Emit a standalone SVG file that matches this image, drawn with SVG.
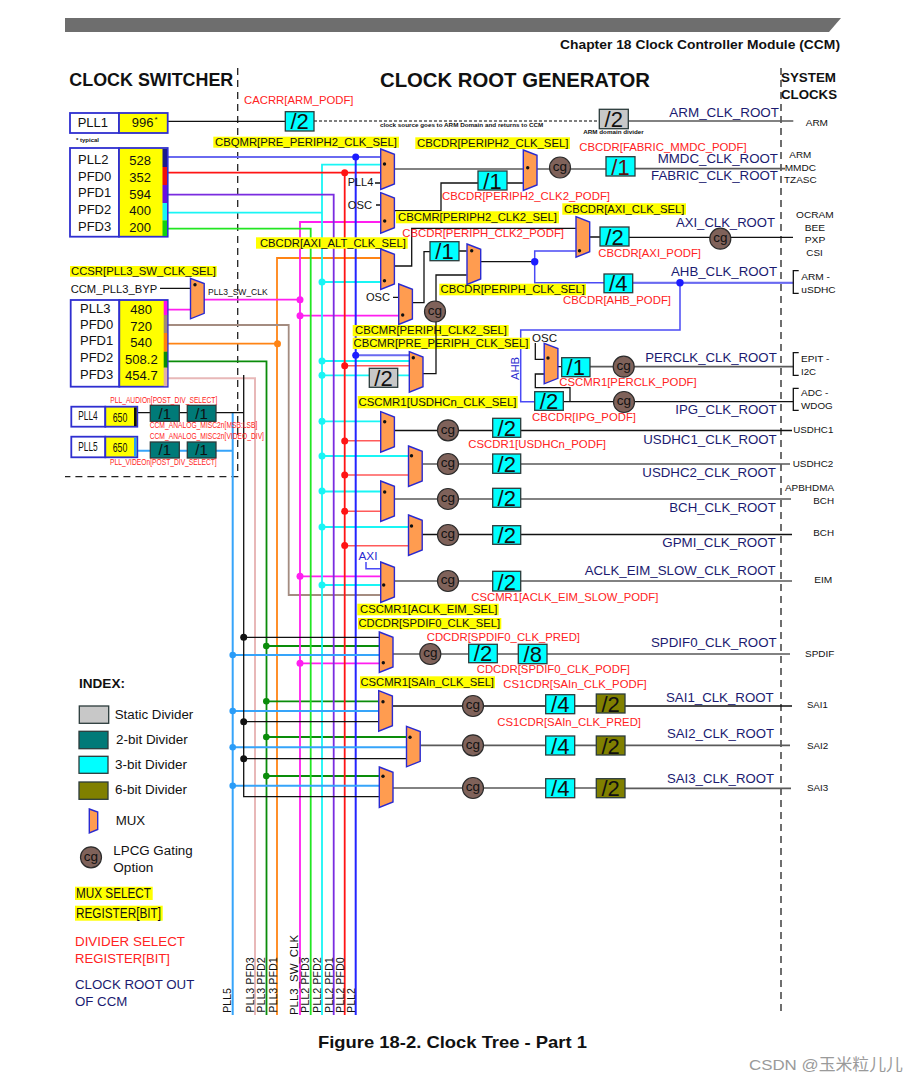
<svg xmlns="http://www.w3.org/2000/svg" xmlns:xlink="http://www.w3.org/1999/xlink" width="907" height="1081" viewBox="0 0 907 1081">
<style>
text{font-family:"Liberation Sans",Arial,sans-serif;fill:#111}
.l{fill:none;stroke-width:1.6;stroke-linejoin:miter}
.k{stroke:#111;stroke-width:1.3}.g{stroke:#5a5a5a;stroke-width:1.7}
.b{stroke:#2424ff;stroke-width:2}.bl{stroke:#6a6af0;stroke-width:2}.bt{stroke:#4a4af5;stroke-width:1.5}
.r{stroke:#ff1414;stroke-width:1.8}.rl{stroke:#ff5a5a;stroke-width:1.6}
.p{stroke:#7a2ce0;stroke-width:1.8}.c{stroke:#19f5f5;stroke-width:1.8}.gr{stroke:#22e622;stroke-width:1.8}
.m{stroke:#ff1ef0;stroke-width:1.8}.o{stroke:#ff8414;stroke-width:1.8}.br{stroke:#a48c80;stroke-width:1.8}
.dg{stroke:#0a8c0a;stroke-width:1.8}.pk{stroke:#e8b8b8;stroke-width:2}.sb{stroke:#36a4fa;stroke-width:2}
.dk{fill:#111}.db{fill:#1c1cff}.dr{fill:#ff1414}.dc{fill:#19f5f5}.dm{fill:#ff1ef0}.dgr{fill:#0a8c0a}.ds{fill:#2a9cf8}.do{fill:#ff8414}
.mux{fill:#ff9c50;stroke:#2a2ad0;stroke-width:1.4}
.pin{fill:#111}
.d3,.d2,.d6,.ds0{stroke:#2b3b3b;stroke-width:1.3}
.d3{fill:#00ffff}.d2{fill:#007a78}.d6{fill:#808000}.ds0{fill:#c8c8c8}
.dt{font-size:22px;text-anchor:middle}.dts{font-size:15px;text-anchor:middle}
.cgc{fill:#7f625a;stroke:#2b2b2b;stroke-width:1.2}.cgt{font-size:13.5px;text-anchor:middle;fill:#111}
.yb{fill:#ffff00}
.y{font-size:11.2px}.red{font-size:11px;fill:#ff2222}.rs{font-size:8.2px;fill:#ff2222}
.root{font-size:13.5px;fill:#1a1a70}.sys{font-size:9.5px}.pb{fill:none;stroke:#2f2fd0;stroke-width:1.8}
.nm{font-size:13px}.vt{font-size:10.7px}.leg{font-size:12.5px}.box{fill:#fff;stroke:#2f2fd0;stroke-width:1.8}
.ybx{fill:#ffff00;stroke:#2f2fd0;stroke-width:1.8}
.dash{fill:none;stroke:#222;stroke-width:1.3;stroke-dasharray:7 5}
</style>
<defs>
<polygon id="muxs" class="mux" points="0,0 13.7,5.3 13.7,35 0,40.5"/>
</defs>
<polygon points="65,18 841,18 829,32 65,32" fill="#6e6e6e"/>
<text x="840" y="49" text-anchor="end" font-size="12" font-weight="bold" textLength="280" lengthAdjust="spacingAndGlyphs">Chapter 18 Clock Controller Module (CCM)</text>
<text x="69.3" y="85.7" font-size="17.5" font-weight="bold" textLength="164" lengthAdjust="spacingAndGlyphs">CLOCK SWITCHER</text>
<text x="380" y="87" font-size="20" font-weight="bold" textLength="270" lengthAdjust="spacingAndGlyphs">CLOCK ROOT GENERATOR</text>
<text x="781" y="82" font-size="13.5" font-weight="bold" textLength="55" lengthAdjust="spacingAndGlyphs">SYSTEM</text>
<text x="781" y="99.3" font-size="13.5" font-weight="bold" textLength="56" lengthAdjust="spacingAndGlyphs">CLOCKS</text>
<path class="dash" d="M237.7 68V476.7H65"/>
<path class="dash" d="M781 68V1015"/>

<g id="connectors">
<path class="l pk" d="M167 378.3H255V1015"/>
<path class="l o" d="M380.7 258H277V1015M167 343.7H277"/>
<path class="l dg" d="M167 361.3H266.5V1015M266.5 646H379.3M266.5 701.3H378.7M266.5 737H406.3M266.5 776H379.3"/>
<path class="l br" d="M167 325H288.7V595H380.7"/>
<path class="l m" d="M167 309.7H190.3M204 299.7H300M380.7 222H300V1015M300 315.7H398.7M300 576.3H380.7M300 663.3H379.3"/>
<path class="l gr" d="M168 228.7H310.7V1015"/>
<path class="l c" d="M168 212.7H322M380.7 164.7H322V1015M380.7 282H322M409.3 361H322M409.3 375.3H322M380.7 421.3H322M408.3 456H322M380.7 491.5H322M408.3 527H322M380.7 585H322"/>
<path class="l p" d="M168 194.7H333.7V1015"/>
<path class="l r" d="M168 172.7H380.7M344.7 172.7V1015"/>
<path class="l rl" d="M344.7 365.7H409.3M344.7 440.7H380.7M344.7 475H408.3M344.7 511.3H380.7M344.7 545.7H408.3"/>
<path class="l bl" d="M168 157H380.7M355.7 355.3H409.3"/>
<path class="l b" d="M355.7 157V1015"/>
<path class="l sb" d="M137 450.7H150.3M179.3 450.7H187.3M216 450.7H232.7M232.7 412.7V1015M232.7 655H379.3M232.7 711H378.7M232.7 747.3H406.3M232.7 785.7H379.3"/>
<path class="l k" d="M137 412.7H150.3M179.3 412.7H187.3M216 412.7H244M243.7 375V796.7H379.3M243.7 637.3H379.3M243.7 721.7H378.7M243.7 758.7H406.3"/>
<path class="l k" d="M168 121.3H285.3M160 288.3H190.3M375 183H380.7M376 205H380.7M393 297.3H398.7"/>
<path class="l" stroke="#555" stroke-width="1.4" stroke-dasharray="3 2" d="M314 121H600"/>
<path class="l g" d="M628 121H793.3M394 169H523M537 169H606M635 168.7H785"/>
<path class="l k" d="M394 210.7H441V183H478M507 183H523M590 237H600M629 237.3H793M412 302.7H424V251.7H430M459 251H466.7M480.7 261.7H534.7"/>
<path class="l k" d="M394 266H411.7V228.3H576"/>
<path class="l bt" d="M576 251H534.7V282.7H604M632.7 282.7H793.3M680 282.7V330H520.7V401.7H534.7M366 562V568.7H380.7"/>
<path class="l bl" d="M632.7 282.7H793.3"/>
<path class="l k" d="M535.3 343V359.3H544M544 374H535.3V387.7H570V401.7M558 366.7H561.7M563.3 401.7H793.3"/>
<path class="l g" d="M590 366.7H793.3"/>
<path class="l k" d="M798.7 270.7H793.3V293.3H798.7M798.7 352.7H793.3V375.3H798.7M798.7 388.3H793.3V410.3H798.7"/>
<path class="l k" d="M394.3 430.5H492.7M520.7 430.5H792"/>
<path class="l g" d="M422.3 464H492.7M520.7 464H790M394.3 499H492.7M520.7 499H791"/>
<path class="l k" d="M422 534.5H492.7M520.7 534.5H792"/>
<path class="l g" d="M394.3 581H492.7M520.7 581H792"/>
<path class="l g" d="M393 654H468.7M497.3 654H518.3M547 654H790"/>
<path class="l k" d="M392.3 706H545.7M574.7 706H596.3M625 706H792"/>
<path class="l g" d="M420.3 745.3H545.7M574.7 745.3H596.3M625 745.3H790"/>
<path class="l g" d="M393 788H545.7M574.7 788H596.3M625 788.3H791"/>
<g class="db"><circle cx="355.7" cy="157" r="3.5"/><circle cx="355.7" cy="355.3" r="3.5"/><circle cx="534.7" cy="261.7" r="3.7"/><circle cx="680" cy="282.7" r="3.7"/></g>
<g class="dr"><circle cx="344.7" cy="172.7" r="3.5"/><circle cx="344.7" cy="365.7" r="3.5"/><circle cx="344.7" cy="441" r="3.5"/><circle cx="344.7" cy="475" r="3.5"/><circle cx="344.7" cy="511.3" r="3.5"/><circle cx="344.7" cy="545.5" r="3.5"/></g>
<g class="dc"><circle cx="322" cy="282" r="3.5"/><circle cx="322" cy="361" r="3.5"/><circle cx="322" cy="375.3" r="3.5"/><circle cx="322" cy="421.3" r="3.5"/><circle cx="322" cy="456" r="3.5"/><circle cx="322" cy="491" r="3.5"/><circle cx="322" cy="527" r="3.5"/><circle cx="322" cy="585" r="3.5"/></g>
<g class="dm"><circle cx="300" cy="299.7" r="3.5"/><circle cx="300" cy="315.7" r="3.5"/><circle cx="300" cy="576.3" r="3.5"/><circle cx="300" cy="663.3" r="3.5"/></g>
<circle class="do" cx="277.5" cy="343.7" r="3.5"/>
<g class="dk"><circle cx="243.7" cy="637.3" r="3.5"/><circle cx="243.7" cy="721.7" r="3.5"/><circle cx="243.7" cy="758.7" r="3.5"/></g>
<g class="dgr"><circle cx="266.3" cy="646" r="3.3"/><circle cx="266.3" cy="701.3" r="3.3"/><circle cx="266.3" cy="737" r="3.3"/><circle cx="266.3" cy="776" r="3.3"/></g>
<g class="ds"><circle cx="232.7" cy="655" r="3.3"/><circle cx="232.7" cy="711" r="3.3"/><circle cx="232.7" cy="747.3" r="3.3"/><circle cx="232.7" cy="785.7" r="3.3"/></g>
</g>

<g id="pll1"><rect class="box" x="70" y="113" width="49" height="20"/><rect class="ybx" x="119" y="113" width="48.7" height="20"/><text class="nm" x="77.7" y="126.7">PLL1</text><text class="nm" x="131.7" y="126.7">996</text><text x="154.5" y="122" font-size="8">*</text><text x="76" y="141.7" font-size="6" font-weight="bold">* typical</text></g>
<g id="pll2-bank"><rect class="box" x="70" y="148" width="49" height="88.7"/><rect class="ybx" x="119" y="148" width="48.7" height="88.7"/>
<rect x="162.5" y="149" width="4.5" height="18" fill="#1c1c8c"/><rect x="162.5" y="167" width="4.5" height="18" fill="#f01010"/><rect x="162.5" y="185" width="4.5" height="18" fill="#6a10e0"/><rect x="162.5" y="203" width="4.5" height="17.5" fill="#19f5f5"/><rect x="162.5" y="220.5" width="4.5" height="15.5" fill="#12d012"/>
<text class="nm" x="78" y="164">PLL2</text><text class="nm" x="78" y="180.7">PFD0</text><text class="nm" x="78" y="197.3">PFD1</text><text class="nm" x="78" y="214">PFD2</text><text class="nm" x="78" y="230.7">PFD3</text>
<text class="nm" x="129.3" y="165">528</text><text class="nm" x="129.3" y="181.5">352</text><text class="nm" x="129.3" y="198.5">594</text><text class="nm" x="129.3" y="215">400</text><text class="nm" x="129.3" y="232">200</text></g>
<g id="pll3-bank"><rect class="box" x="70.7" y="300" width="48.6" height="86.7"/><rect class="ybx" x="119.3" y="300" width="48.4" height="86.7"/>
<rect x="163.7" y="301" width="3.6" height="14" fill="#ff10e8"/><rect x="163.7" y="315" width="3.6" height="18" fill="#a08878"/><rect x="163.7" y="333" width="3.6" height="18.7" fill="#ff8010"/><rect x="163.7" y="351.7" width="3.6" height="16" fill="#0a8c0a"/><rect x="163.7" y="367.7" width="3.6" height="18.5" fill="#e0b0a8"/>
<text class="nm" x="80" y="312.7">PLL3</text><text class="nm" x="80" y="329.3">PFD0</text><text class="nm" x="80" y="345">PFD1</text><text class="nm" x="80" y="362">PFD2</text><text class="nm" x="80" y="379">PFD3</text>
<text class="nm" x="130.3" y="313.7">480</text><text class="nm" x="130.3" y="330.7">720</text><text class="nm" x="130.3" y="347">540</text><text class="nm" x="125" y="364" textLength="32.7" lengthAdjust="spacingAndGlyphs">508.2</text><text class="nm" x="125" y="380.3" textLength="32.7" lengthAdjust="spacingAndGlyphs">454.7</text></g>
<g id="pll4"><rect class="box" x="71.3" y="406.7" width="34" height="20"/><rect class="ybx" x="105.3" y="406.7" width="32" height="20"/><rect x="134" y="407.5" width="2.6" height="18.5" fill="#111"/><text class="nm" x="78.3" y="420" textLength="19.4" lengthAdjust="spacingAndGlyphs">PLL4</text><text class="nm" x="112.7" y="422" textLength="14.6" lengthAdjust="spacingAndGlyphs">650</text></g>
<g id="pll5"><rect class="box" x="71.3" y="436.7" width="34" height="20.6"/><rect class="ybx" x="105.3" y="436.7" width="32" height="20.6"/><rect x="134" y="437.5" width="2.6" height="19" fill="#2a9cf8"/><text class="nm" x="78.3" y="450.7" textLength="19.4" lengthAdjust="spacingAndGlyphs">PLL5</text><text class="nm" x="112.7" y="452" textLength="14.6" lengthAdjust="spacingAndGlyphs">650</text></g>
<g id="audio-div1"><rect class="d2" x="150.3" y="405.3" width="29" height="16"/><text class="dts" x="164.8" y="418.5">/1</text></g>
<g id="audio-div2"><rect class="d2" x="187.3" y="405.3" width="28.7" height="16"/><text class="dts" x="201.6" y="418.5">/1</text></g>
<g id="video-div1"><rect class="d2" x="150.3" y="442" width="29" height="16"/><text class="dts" x="164.8" y="455.2">/1</text></g>
<g id="video-div2"><rect class="d2" x="187.3" y="442" width="28.7" height="16"/><text class="dts" x="201.6" y="455.2">/1</text></g>
<text class="rs" x="110.3" y="402.7" textLength="107" lengthAdjust="spacingAndGlyphs">PLL_AUDIOn[POST_DIV_SELECT]</text>
<text class="rs" x="149.7" y="427.7" textLength="107.6" lengthAdjust="spacingAndGlyphs">CCM_ANALOG_MISC2n[MSB:LSB]</text>
<text class="rs" x="149.7" y="438.7" textLength="114.3" lengthAdjust="spacingAndGlyphs">CCM_ANALOG_MISC2n[VIDEO_DIV]</text>
<text class="rs" x="110" y="464.7" textLength="106.7" lengthAdjust="spacingAndGlyphs">PLL_VIDEOn[POST_DIV_SELECT]</text>
<text x="70.7" y="293" font-size="11" textLength="86.5" lengthAdjust="spacingAndGlyphs">CCM_PLL3_BYP</text>
<text x="208" y="295" font-size="8.2" textLength="59.7" lengthAdjust="spacingAndGlyphs">PLL3_SW_CLK</text>

<g id="mux-pll3"><use xlink:href="#muxs" href="#muxs" x="190.5" y="278.3"/><circle class="pin" cx="195" cy="284.7" r="1.7"/></g>
<g id="div-arm-podf"><rect class="d3" x="285.3" y="111.7" width="28.7" height="19.3"/><text class="dt" x="299.6" y="129">/2</text></g>
<g id="div-arm-domain"><rect class="ds0" x="599.3" y="109.3" width="29" height="19.4"/><text class="dt" x="613.8" y="127.3">/2</text></g>
<text x="380" y="127.3" font-size="6.2" font-weight="bold" textLength="163.3" lengthAdjust="spacingAndGlyphs">clock source goes to ARM Domain and returns to CCM</text>
<text x="583.3" y="134" font-size="6.2" font-weight="bold" textLength="60.4" lengthAdjust="spacingAndGlyphs">ARM domain divider</text>

<g id="yellow-labels">
<rect class="yb" x="213.3" y="136.7" width="185.7" height="11"/><text class="y" x="215" y="145.6" textLength="182" lengthAdjust="spacingAndGlyphs">CBQMR[PRE_PERIPH2_CLK_SEL]</text>
<rect class="yb" x="415.3" y="137.3" width="154.7" height="11.7"/><text class="y" x="417" y="146.7" textLength="151.5" lengthAdjust="spacingAndGlyphs">CBCDR[PERIPH2_CLK_SEL]</text>
<rect class="yb" x="256" y="237.3" width="151.7" height="11.4"/><text class="y" x="260" y="246.5" textLength="146" lengthAdjust="spacingAndGlyphs">CBCDR[AXI_ALT_CLK_SEL]</text>
<rect class="yb" x="396" y="211.3" width="163" height="12"/><text class="y" x="398" y="220.8" textLength="159" lengthAdjust="spacingAndGlyphs">CBCMR[PERIPH2_CLK2_SEL]</text>
<rect class="yb" x="562.3" y="203.3" width="123.7" height="11.4"/><text class="y" x="564" y="212.5" textLength="120.5" lengthAdjust="spacingAndGlyphs">CBCDR[AXI_CLK_SEL]</text>
<rect class="yb" x="439.3" y="283.7" width="146.7" height="11.6"/><text class="y" x="440.5" y="293" textLength="144.5" lengthAdjust="spacingAndGlyphs">CBCDR[PERIPH_CLK_SEL]</text>
<rect class="yb" x="352.7" y="325" width="156" height="11.3"/><text class="y" x="355" y="334" textLength="152" lengthAdjust="spacingAndGlyphs">CBCMR[PERIPH_CLK2_SEL]</text>
<rect class="yb" x="352.7" y="337.7" width="177.3" height="11.3"/><text class="y" x="353.5" y="346.7" textLength="175" lengthAdjust="spacingAndGlyphs">CBCMR[PRE_PERIPH_CLK_SEL]</text>
<rect class="yb" x="357.7" y="396" width="160" height="12.3"/><text class="y" x="358.5" y="405.8" textLength="158" lengthAdjust="spacingAndGlyphs">CSCMR1[USDHCn_CLK_SEL]</text>
<rect class="yb" x="357.3" y="603.7" width="141.4" height="11.6"/><text class="y" x="360" y="613" textLength="137.5" lengthAdjust="spacingAndGlyphs">CSCMR1[ACLK_EIM_SEL]</text>
<rect class="yb" x="358" y="618" width="143.3" height="11.3"/><text class="y" x="358.5" y="627" textLength="141.5" lengthAdjust="spacingAndGlyphs">CDCDR[SPDIF0_CLK_SEL]</text>
<rect class="yb" x="360" y="676.3" width="135" height="12"/><text class="y" x="360.5" y="685.8" textLength="133.5" lengthAdjust="spacingAndGlyphs">CSCMR1[SAIn_CLK_SEL]</text>
<rect class="yb" x="70" y="266" width="146.7" height="10.7"/><text class="y" x="71" y="274.8" textLength="145" lengthAdjust="spacingAndGlyphs">CCSR[PLL3_SW_CLK_SEL]</text>
</g>
<path id="periph-clk2-feed" class="l k" d="M466.7 275H436V373.7H423"/>

<g id="red-labels">
<text class="red" x="244" y="104" textLength="109.5" lengthAdjust="spacingAndGlyphs">CACRR[ARM_PODF]</text>
<text class="red" x="579.3" y="150.7" textLength="167.4" lengthAdjust="spacingAndGlyphs">CBCDR[FABRIC_MMDC_PODF]</text>
<text class="red" x="442" y="200" textLength="168" lengthAdjust="spacingAndGlyphs">CBCDR[PERIPH2_CLK2_PODF]</text>
<text class="red" x="402.3" y="237" textLength="161.7" lengthAdjust="spacingAndGlyphs">CBCDR[PERIPH_CLK2_PODF]</text>
<text class="red" x="598.3" y="257.3" textLength="102.7" lengthAdjust="spacingAndGlyphs">CBCDR[AXI_PODF]</text>
<text class="red" x="563" y="304.3" textLength="108" lengthAdjust="spacingAndGlyphs">CBCDR[AHB_PODF]</text>
<text class="red" x="559.3" y="386" textLength="137.4" lengthAdjust="spacingAndGlyphs">CSCMR1[PERCLK_PODF]</text>
<text class="red" x="532" y="420.7" textLength="104" lengthAdjust="spacingAndGlyphs">CBCDR[IPG_PODF]</text>
<text class="red" x="468.3" y="447.7" textLength="137.7" lengthAdjust="spacingAndGlyphs">CSCDR1[USDHCn_PODF]</text>
<text class="red" x="471.3" y="600.7" textLength="187" lengthAdjust="spacingAndGlyphs">CSCMR1[ACLK_EIM_SLOW_PODF]</text>
<text class="red" x="426.7" y="640.5" textLength="153.3" lengthAdjust="spacingAndGlyphs">CDCDR[SPDIF0_CLK_PRED]</text>
<text class="red" x="476.7" y="673.3" textLength="153.3" lengthAdjust="spacingAndGlyphs">CDCDR[SPDIF0_CLK_PODF]</text>
<text class="red" x="503.3" y="688" textLength="143.4" lengthAdjust="spacingAndGlyphs">CS1CDR[SAIn_CLK_PODF]</text>
<text class="red" x="497.3" y="725.7" textLength="143.7" lengthAdjust="spacingAndGlyphs">CS1CDR[SAIn_CLK_PRED]</text>
</g>

<text x="347.7" y="186.3" font-size="11" textLength="25.6" lengthAdjust="spacingAndGlyphs">PLL4</text>
<text x="347.7" y="209.3" font-size="11" textLength="24.3" lengthAdjust="spacingAndGlyphs">OSC</text>
<text x="366" y="301" font-size="11" textLength="24" lengthAdjust="spacingAndGlyphs">OSC</text>
<text x="532" y="342" font-size="11" textLength="25" lengthAdjust="spacingAndGlyphs">OSC</text>
<text x="358.5" y="560" font-size="10.5" style="fill:#2a2ad0" textLength="19" lengthAdjust="spacingAndGlyphs">AXI</text>
<text transform="translate(519,380) rotate(-90)" font-size="10.5" style="fill:#2a2ad0" textLength="23" lengthAdjust="spacingAndGlyphs">AHB</text>

<g id="mux-pre-periph2"><use xlink:href="#muxs" href="#muxs" x="380.7" y="149"/><circle class="pin" cx="384.5" cy="164" r="1.7"/></g>
<g id="mux-periph2-clk2"><use xlink:href="#muxs" href="#muxs" x="380.7" y="192.7"/><circle class="pin" cx="384.7" cy="221" r="1.7"/></g>
<g id="mux-periph2"><use xlink:href="#muxs" href="#muxs" x="523.3" y="150"/><circle class="pin" cx="527.7" cy="167.7" r="1.7"/></g>
<g id="mux-axi-alt"><use xlink:href="#muxs" href="#muxs" x="380.7" y="249"/><circle class="pin" cx="384.5" cy="280.7" r="1.7"/></g>
<g id="mux-axi"><use xlink:href="#muxs" href="#muxs" x="576" y="216.7"/><circle class="pin" cx="579.5" cy="250.7" r="1.7"/></g>
<g id="mux-periph-clk2"><use xlink:href="#muxs" href="#muxs" x="398.7" y="284"/><circle class="pin" cx="402.7" cy="315" r="1.7"/></g>
<g id="mux-periph"><use xlink:href="#muxs" href="#muxs" x="467" y="244"/><circle class="pin" cx="471.7" cy="250.7" r="1.7"/></g>
<g id="mux-pre-periph"><use xlink:href="#muxs" href="#muxs" x="409.3" y="351.7"/><circle class="pin" cx="413.3" cy="357.7" r="1.7"/></g>
<g id="mux-perclk"><use xlink:href="#muxs" href="#muxs" x="544.2" y="343.3"/><circle class="pin" cx="548" cy="358" r="1.7"/></g>
<g id="mux-usdhc1"><use xlink:href="#muxs" href="#muxs" x="380.7" y="411.7"/><circle class="pin" cx="384.7" cy="421.7" r="1.7"/></g>
<g id="mux-usdhc2"><use xlink:href="#muxs" href="#muxs" x="408.5" y="446"/><circle class="pin" cx="411.5" cy="455.7" r="1.7"/></g>
<g id="mux-bch"><use xlink:href="#muxs" href="#muxs" x="380.7" y="481"/><circle class="pin" cx="384.7" cy="492" r="1.7"/></g>
<g id="mux-gpmi"><use xlink:href="#muxs" href="#muxs" x="408.5" y="515"/><circle class="pin" cx="411.5" cy="526" r="1.7"/></g>
<g id="mux-eim"><use xlink:href="#muxs" href="#muxs" x="380.7" y="562"/><circle class="pin" cx="383.7" cy="585" r="1.7"/></g>
<g id="mux-spdif"><use xlink:href="#muxs" href="#muxs" x="379.3" y="632"/><circle class="pin" cx="383.3" cy="662.7" r="1.7"/></g>
<g id="mux-sai1"><use xlink:href="#muxs" href="#muxs" x="378.7" y="690.7"/><circle class="pin" cx="383" cy="701.7" r="1.7"/></g>
<g id="mux-sai2"><use xlink:href="#muxs" href="#muxs" x="406.5" y="726.3"/><circle class="pin" cx="410" cy="737.3" r="1.7"/></g>
<g id="mux-sai3"><use xlink:href="#muxs" href="#muxs" x="379.3" y="767"/><circle class="pin" cx="383" cy="776.3" r="1.7"/></g>

<g id="div-fabric"><rect class="d3" x="606" y="156.7" width="29" height="19.3"/><text class="dt" x="620.5" y="174.5" style="fill:#5a1010">/1</text></g>
<g id="div-periph2-clk2"><rect class="d3" x="478" y="171" width="29" height="19"/><text class="dt" x="492.5" y="188.5">/1</text></g>
<g id="div-axi"><rect class="d3" x="600" y="227" width="29" height="19"/><text class="dt" x="614.5" y="244.5">/2</text></g>
<g id="div-periph-clk2"><rect class="d3" x="430" y="241.7" width="29" height="19"/><text class="dt" x="444.5" y="259.2">/1</text></g>
<g id="div-ahb"><rect class="d3" x="604" y="274" width="28.7" height="18.7"/><text class="dt" x="618.3" y="291.2">/4</text></g>
<g id="div-pre-periph-static"><rect class="ds0" x="369.3" y="368.3" width="28.4" height="19"/><text class="dt" x="383.5" y="385.8">/2</text></g>
<g id="div-perclk"><rect class="d3" x="561.7" y="357.7" width="28.3" height="19"/><text class="dt" x="575.8" y="375.2">/1</text></g>
<g id="div-ipg"><rect class="d3" x="534.7" y="391.7" width="28.6" height="18.6"/><text class="dt" x="549" y="408.8">/2</text></g>
<g id="div-usdhc1"><rect class="d3" x="492.7" y="418.3" width="28" height="19"/><text class="dt" x="506.7" y="435.8">/2</text></g>
<g id="div-usdhc2"><rect class="d3" x="492.7" y="454" width="28" height="19.3"/><text class="dt" x="506.7" y="471.8">/2</text></g>
<g id="div-bch"><rect class="d3" x="492.7" y="488.3" width="28" height="19"/><text class="dt" x="506.7" y="505.8">/2</text></g>
<g id="div-gpmi"><rect class="d3" x="492.7" y="525.7" width="28" height="18.6"/><text class="dt" x="506.7" y="542.8">/2</text></g>
<g id="div-eim"><rect class="d3" x="492.7" y="571.3" width="28" height="19.7"/><text class="dt" x="506.7" y="589.5">/2</text></g>
<g id="div-spdif-pred"><rect class="d3" x="468.7" y="644.3" width="28.6" height="18.4"/><text class="dt" x="483" y="661.2">/2</text></g>
<g id="div-spdif-podf"><rect class="d3" x="518.3" y="644.3" width="28.7" height="19.4"/><text class="dt" x="532.7" y="662.2">/8</text></g>
<g id="div-sai1-pred"><rect class="d3" x="545.7" y="694.7" width="29" height="19"/><text class="dt" x="560.2" y="712.2">/4</text></g>
<g id="div-sai1-podf"><rect class="d6" x="596.3" y="694" width="28.7" height="19"/><text class="dt" x="610.6" y="711.5">/2</text></g>
<g id="div-sai2-pred"><rect class="d3" x="545.7" y="736" width="29" height="19"/><text class="dt" x="560.2" y="753.5">/4</text></g>
<g id="div-sai2-podf"><rect class="d6" x="596.3" y="736" width="28.7" height="19"/><text class="dt" x="610.6" y="753.5">/2</text></g>
<g id="div-sai3-pred"><rect class="d3" x="545.7" y="778.7" width="29" height="19"/><text class="dt" x="560.2" y="796.2">/4</text></g>
<g id="div-sai3-podf"><rect class="d6" x="596.3" y="778.7" width="28.7" height="19"/><text class="dt" x="610.6" y="796.2">/2</text></g>

<g id="cg-mmdc"><circle class="cgc" cx="560" cy="167.5" r="10.5"/><text class="cgt" x="560" y="171">cg</text></g>
<g id="cg-axi"><circle class="cgc" cx="720.3" cy="238.7" r="10.5"/><text class="cgt" x="720.3" y="242">cg</text></g>
<g id="cg-periph-clk2"><circle class="cgc" cx="435" cy="311.5" r="10.5"/><text class="cgt" x="435" y="315">cg</text></g>
<g id="cg-perclk"><circle class="cgc" cx="623.7" cy="366.7" r="10.5"/><text class="cgt" x="623.7" y="370">cg</text></g>
<g id="cg-ipg"><circle class="cgc" cx="624" cy="402" r="10.5"/><text class="cgt" x="624" y="405.3">cg</text></g>
<g id="cg-usdhc1"><circle class="cgc" cx="448" cy="430.3" r="10.5"/><text class="cgt" x="448" y="433.6">cg</text></g>
<g id="cg-usdhc2"><circle class="cgc" cx="448" cy="464" r="10.5"/><text class="cgt" x="448" y="467.3">cg</text></g>
<g id="cg-bch"><circle class="cgc" cx="448" cy="499" r="10.5"/><text class="cgt" x="448" y="502.3">cg</text></g>
<g id="cg-gpmi"><circle class="cgc" cx="448" cy="535" r="10.5"/><text class="cgt" x="448" y="538.3">cg</text></g>
<g id="cg-eim"><circle class="cgc" cx="448" cy="581" r="10.5"/><text class="cgt" x="448" y="584.3">cg</text></g>
<g id="cg-spdif"><circle class="cgc" cx="430.3" cy="654" r="10.5"/><text class="cgt" x="430.3" y="657.3">cg</text></g>
<g id="cg-sai1"><circle class="cgc" cx="473" cy="706" r="10.5"/><text class="cgt" x="473" y="709.3">cg</text></g>
<g id="cg-sai2"><circle class="cgc" cx="473" cy="745.3" r="10.5"/><text class="cgt" x="473" y="748.6">cg</text></g>
<g id="cg-sai3"><circle class="cgc" cx="473" cy="788" r="10.5"/><text class="cgt" x="473" y="791.3">cg</text></g>

<g id="root-labels">
<text class="root" x="669.3" y="117.3" textLength="109.7" lengthAdjust="spacingAndGlyphs">ARM_CLK_ROOT</text>
<text class="root" x="657.7" y="163" textLength="120.3" lengthAdjust="spacingAndGlyphs">MMDC_CLK_ROOT</text>
<text class="root" x="651" y="180" textLength="127" lengthAdjust="spacingAndGlyphs">FABRIC_CLK_ROOT</text>
<text class="root" x="676" y="227.3" textLength="99" lengthAdjust="spacingAndGlyphs">AXI_CLK_ROOT</text>
<text class="root" x="671" y="276" textLength="106" lengthAdjust="spacingAndGlyphs">AHB_CLK_ROOT</text>
<text class="root" x="645.3" y="362" textLength="131.4" lengthAdjust="spacingAndGlyphs">PERCLK_CLK_ROOT</text>
<text class="root" x="675.3" y="414" textLength="101.4" lengthAdjust="spacingAndGlyphs">IPG_CLK_ROOT</text>
<text class="root" x="643.3" y="444" textLength="133.4" lengthAdjust="spacingAndGlyphs">USDHC1_CLK_ROOT</text>
<text class="root" x="642.3" y="476.7" textLength="133.7" lengthAdjust="spacingAndGlyphs">USDHC2_CLK_ROOT</text>
<text class="root" x="669.3" y="512" textLength="106.4" lengthAdjust="spacingAndGlyphs">BCH_CLK_ROOT</text>
<text class="root" x="662.3" y="546.7" textLength="113.4" lengthAdjust="spacingAndGlyphs">GPMI_CLK_ROOT</text>
<text class="root" x="584.7" y="575" textLength="191" lengthAdjust="spacingAndGlyphs">ACLK_EIM_SLOW_CLK_ROOT</text>
<text class="root" x="651" y="647" textLength="125.7" lengthAdjust="spacingAndGlyphs">SPDIF0_CLK_ROOT</text>
<text class="root" x="666" y="702.3" textLength="107.7" lengthAdjust="spacingAndGlyphs">SAI1_CLK_ROOT</text>
<text class="root" x="667" y="738" textLength="107" lengthAdjust="spacingAndGlyphs">SAI2_CLK_ROOT</text>
<text class="root" x="667" y="783" textLength="107" lengthAdjust="spacingAndGlyphs">SAI3_CLK_ROOT</text>
</g>

<g id="system-clocks">
<text class="sys" x="805.7" y="126" textLength="22.3" lengthAdjust="spacingAndGlyphs">ARM</text>
<text class="sys" x="789.3" y="158" textLength="22" lengthAdjust="spacingAndGlyphs">ARM</text>
<text class="sys" x="784.7" y="171" textLength="31.3" lengthAdjust="spacingAndGlyphs">MMDC</text>
<text class="sys" x="784" y="182.7" textLength="32.7" lengthAdjust="spacingAndGlyphs">TZASC</text>
<text class="sys" x="796" y="218" textLength="37.7" lengthAdjust="spacingAndGlyphs">OCRAM</text>
<text class="sys" x="804.7" y="230.7" textLength="20.3" lengthAdjust="spacingAndGlyphs">BEE</text>
<text class="sys" x="804.7" y="242.7" textLength="20.6" lengthAdjust="spacingAndGlyphs">PXP</text>
<text class="sys" x="806.3" y="256" textLength="16.4" lengthAdjust="spacingAndGlyphs">CSI</text>
<text class="sys" x="801.3" y="280" textLength="28.7" lengthAdjust="spacingAndGlyphs">ARM -</text>
<text class="sys" x="801.3" y="292.7" textLength="34.4" lengthAdjust="spacingAndGlyphs">uSDHC</text>
<text class="sys" x="801" y="362" textLength="28.3" lengthAdjust="spacingAndGlyphs">EPIT -</text>
<text class="sys" x="801" y="375.3" textLength="15" lengthAdjust="spacingAndGlyphs">I2C</text>
<text class="sys" x="801" y="396" textLength="27.3" lengthAdjust="spacingAndGlyphs">ADC -</text>
<text class="sys" x="801" y="408.7" textLength="31.7" lengthAdjust="spacingAndGlyphs">WDOG</text>
<text class="sys" x="793.3" y="433.3" textLength="40" lengthAdjust="spacingAndGlyphs">USDHC1</text>
<text class="sys" x="792.7" y="467.3" textLength="40.6" lengthAdjust="spacingAndGlyphs">USDHC2</text>
<text class="sys" x="785" y="491" textLength="49" lengthAdjust="spacingAndGlyphs">APBHDMA</text>
<text class="sys" x="813.3" y="503.7" textLength="20.7" lengthAdjust="spacingAndGlyphs">BCH</text>
<text class="sys" x="813.3" y="535.7" textLength="20.7" lengthAdjust="spacingAndGlyphs">BCH</text>
<text class="sys" x="814.3" y="582.7" textLength="18" lengthAdjust="spacingAndGlyphs">EIM</text>
<text class="sys" x="805" y="656.7" textLength="29.3" lengthAdjust="spacingAndGlyphs">SPDIF</text>
<text class="sys" x="807" y="707.7" textLength="20.7" lengthAdjust="spacingAndGlyphs">SAI1</text>
<text class="sys" x="807" y="748.7" textLength="21.3" lengthAdjust="spacingAndGlyphs">SAI2</text>
<text class="sys" x="807" y="790.7" textLength="21.3" lengthAdjust="spacingAndGlyphs">SAI3</text>
</g>

<g id="bus-labels">
<text class="vt" transform="translate(231,1012.7) rotate(-90)" textLength="24.7" lengthAdjust="spacingAndGlyphs">PLL5</text>
<text class="vt" transform="translate(254.3,1012.7) rotate(-90)" textLength="55.4" lengthAdjust="spacingAndGlyphs">PLL3 PFD3</text>
<text class="vt" transform="translate(265.3,1012.7) rotate(-90)" textLength="55.4" lengthAdjust="spacingAndGlyphs">PLL3 PFD2</text>
<text class="vt" transform="translate(276.7,1012.7) rotate(-90)" textLength="55.4" lengthAdjust="spacingAndGlyphs">PLL3 PFD1</text>
<text class="vt" transform="translate(297.7,1015) rotate(-90)" textLength="80" lengthAdjust="spacingAndGlyphs">PLL3_SW_CLK</text>
<text class="vt" transform="translate(309.3,1013) rotate(-90)" textLength="55.7" lengthAdjust="spacingAndGlyphs">PLL2 PFD3</text>
<text class="vt" transform="translate(320.5,1013) rotate(-90)" textLength="55.7" lengthAdjust="spacingAndGlyphs">PLL2 PFD2</text>
<text class="vt" transform="translate(332.8,1013) rotate(-90)" textLength="55.7" lengthAdjust="spacingAndGlyphs">PLL2 PFD1</text>
<text class="vt" transform="translate(343.7,1013) rotate(-90)" textLength="55.7" lengthAdjust="spacingAndGlyphs">PLL2 PFD0</text>
<text class="vt" transform="translate(354.8,1013) rotate(-90)" textLength="25" lengthAdjust="spacingAndGlyphs">PLL2</text>
</g>

<g id="legend">
<text x="79" y="688" font-size="12.5" font-weight="bold" textLength="46" lengthAdjust="spacingAndGlyphs">INDEX:</text>
<rect class="ds0" x="79.3" y="706" width="29.4" height="17.3"/><text class="leg" x="114.7" y="719.3" textLength="78.6" lengthAdjust="spacingAndGlyphs">Static Divider</text>
<rect class="d2" x="79" y="731.3" width="29" height="17.4"/><text class="leg" x="116" y="744.3" textLength="71.7" lengthAdjust="spacingAndGlyphs">2-bit Divider</text>
<rect class="d3" x="79" y="756.3" width="29" height="17"/><text class="leg" x="115" y="769.3" textLength="72" lengthAdjust="spacingAndGlyphs">3-bit Divider</text>
<rect class="d6" x="79" y="782" width="29" height="17.3"/><text class="leg" x="115" y="794.3" textLength="72" lengthAdjust="spacingAndGlyphs">6-bit Divider</text>
<polygon class="mux" points="89.3,809 97.7,812 97.7,829.5 89.3,833"/><text class="leg" x="115.7" y="825" textLength="29.5" lengthAdjust="spacingAndGlyphs">MUX</text>
<circle class="cgc" cx="91" cy="857.3" r="10.5"/><text class="cgt" x="91" y="860.6">cg</text>
<text class="leg" x="113.3" y="855" textLength="79.4" lengthAdjust="spacingAndGlyphs">LPCG Gating</text><text class="leg" x="113.3" y="871.7" textLength="40" lengthAdjust="spacingAndGlyphs">Option</text>
<rect class="yb" x="75" y="886.7" width="77.7" height="13.3"/><text x="76" y="898.3" font-size="14" textLength="75" lengthAdjust="spacingAndGlyphs">MUX SELECT</text>
<rect class="yb" x="75" y="905.7" width="87.7" height="15"/><text x="76" y="917.7" font-size="14" textLength="85" lengthAdjust="spacingAndGlyphs">REGISTER[BIT]</text>
<text class="leg" style="fill:#ff2222" x="75" y="945.7" textLength="110" lengthAdjust="spacingAndGlyphs">DIVIDER SELECT</text>
<text class="leg" style="fill:#ff2222" x="75" y="963.3" textLength="95" lengthAdjust="spacingAndGlyphs">REGISTER[BIT]</text>
<text class="leg" style="fill:#1a1a70" x="75" y="989.3" textLength="119.3" lengthAdjust="spacingAndGlyphs">CLOCK ROOT OUT</text>
<text class="leg" style="fill:#1a1a70" x="75" y="1005.7" textLength="52.3" lengthAdjust="spacingAndGlyphs">OF CCM</text>
</g>
<text x="318" y="1048" font-size="16.5" font-weight="bold" textLength="269" lengthAdjust="spacingAndGlyphs">Figure 18-2. Clock Tree - Part 1</text>
<text x="749" y="1070" font-size="15.5" textLength="154" lengthAdjust="spacingAndGlyphs" style="fill:#9a9a9a;font-family:'Liberation Sans','Noto Sans CJK SC',sans-serif">CSDN @玉米粒儿儿</text>
</svg>
